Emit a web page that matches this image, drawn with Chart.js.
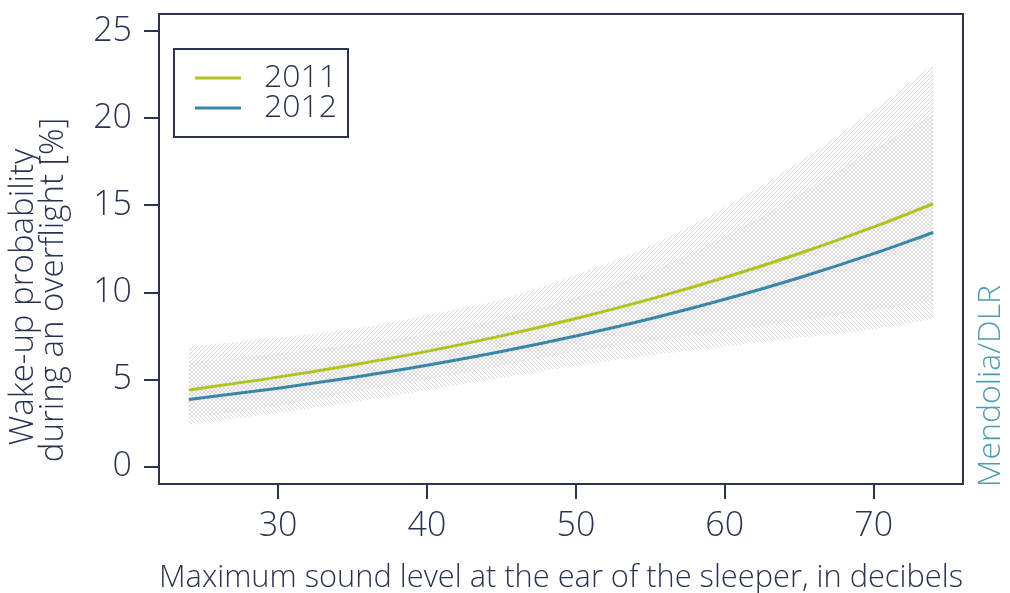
<!DOCTYPE html>
<html>
<head>
<meta charset="utf-8">
<script src="https://cdn.jsdelivr.net/npm/chart.js@4.4.1/dist/chart.umd.min.js"></script>
<style>
html, body { margin: 0; padding: 0; background: #fff; }
#wrap { width: 1010px; height: 593px; position: relative; }
</style>
</head>
<body>
<div id="wrap"><canvas id="grafica"></canvas></div>
<script>
// valores (nivel sonoro en dB, probabilidad en %)
const niveles = [24, 30, 35, 40, 45, 50, 55, 60, 65, 70, 74];
const prob2011 = [4.40, 5.14, 5.84, 6.62, 7.51, 8.51, 9.62, 10.86, 12.24, 13.77, 15.10];
const prob2012 = [3.85, 4.50, 5.12, 5.82, 6.61, 7.50, 8.49, 9.61, 10.85, 12.23, 13.45];
const sup2011 = [6.9, 7.4, 7.9, 8.7, 9.6, 11.0, 12.7, 14.9, 17.5, 20.5, 23.1];
const inf2011 = [2.8, 3.5, 4.3, 5.0, 5.8, 6.6, 7.2, 7.8, 8.4, 9.0, 9.5];
const sup2012 = [6.0, 6.5, 7.0, 7.6, 8.5, 9.7, 11.2, 13.2, 15.6, 18.2, 20.2];
const inf2012 = [2.4, 3.1, 3.7, 4.4, 5.1, 5.8, 6.4, 6.9, 7.4, 7.9, 8.5];
const ticksX = [30, 40, 50, 60, 70];
const ticksY = [0, 5, 10, 15, 20, 25];
const series = ['2011', '2012'];

const azul = '#2a3452';
const fuente = "'Open Sans', 'DejaVu Sans', sans-serif";
const colores = { '2011': '#b3c21d', '2012': '#3a86a8' };

function puntos(ys) {
    return niveles.map(function(x, i) { return { x: x, y: ys[i] }; });
}

// rayado gris para las bandas de confianza
function rayado(dir) {
    var c = document.createElement('canvas');
    c.width = 4; c.height = 4;
    var g = c.getContext('2d');
    g.strokeStyle = 'rgba(150,150,150,0.36)';
    g.lineWidth = 1;
    g.beginPath();
    if (dir > 0) {
        g.moveTo(0, 4); g.lineTo(4, 0);
        g.moveTo(-1, 1); g.lineTo(1, -1);
        g.moveTo(3, 5); g.lineTo(5, 3);
    } else {
        g.moveTo(0, 0); g.lineTo(4, 4);
        g.moveTo(-1, 3); g.lineTo(1, 5);
        g.moveTo(3, -1); g.lineTo(5, 1);
    }
    g.stroke();
    return g.createPattern(c, 'repeat');
}

function banda(ys, relleno, fondo) {
    return {
        label: '',
        data: puntos(ys),
        borderWidth: 0,
        borderColor: 'rgba(0,0,0,0)',
        pointRadius: 0,
        fill: relleno,
        backgroundColor: fondo,
        cubicInterpolationMode: 'monotone',
        order: 2
    };
}

function curva(nombre, ys) {
    return {
        label: nombre,
        data: puntos(ys),
        borderColor: colores[nombre],
        borderWidth: 3,
        pointRadius: 0,
        fill: false,
        cubicInterpolationMode: 'monotone',
        order: 0
    };
}

// marco, leyenda y textos extra
const extras = {
    id: 'extras',
    afterDraw: function(chart) {
        var ctx = chart.ctx;
        var a = chart.chartArea;
        ctx.save();
        ctx.strokeStyle = azul;
        ctx.lineWidth = 2;
        ctx.strokeRect(a.left, a.top, a.right - a.left, a.bottom - a.top);

        // leyenda
        ctx.strokeRect(174, 49, 174, 88);
        ctx.font = '300 32px ' + fuente;
        ctx.textBaseline = 'middle';
        ctx.textAlign = 'left';
        series.forEach(function(s, i) {
            var y = 78 + i * 30;
            ctx.strokeStyle = colores[s];
            ctx.lineWidth = 3;
            ctx.beginPath();
            ctx.moveTo(195, y); ctx.lineTo(241, y);
            ctx.stroke();
            ctx.fillStyle = azul;
            ctx.fillText(s, 264, y);
        });

        // titulo eje y (dos lineas)
        ctx.font = '300 33px ' + fuente;
        ctx.textAlign = 'center';
        ctx.textBaseline = 'alphabetic';
        ctx.fillStyle = azul;
        ctx.save();
        ctx.translate(33, 297);
        ctx.rotate(-Math.PI / 2);
        ctx.fillText('Wake-up probability', 0, 0);
        ctx.restore();
        ctx.save();
        ctx.translate(63, 290);
        ctx.rotate(-Math.PI / 2);
        ctx.fillText('during an overflight [%]', 0, 0);
        ctx.restore();

        // fuente
        ctx.font = '300 32px ' + fuente;
        ctx.textBaseline = 'middle';
        ctx.fillStyle = '#4f9cb5';
        ctx.translate(991, 386);
        ctx.rotate(-Math.PI / 2);
        ctx.fillText('Mendolia/DLR', 0, 0);
        ctx.restore();
    }
};

document.addEventListener('DOMContentLoaded', function() {
    var ctx = document.getElementById('grafica').getContext('2d');
    new Chart(ctx, {
        type: 'line',
        data: {
            datasets: [
                curva('2011', prob2011),
                curva('2012', prob2012),
                banda(inf2011, false, 'rgba(0,0,0,0)'),
                banda(sup2011, '-1', rayado(1)),
                banda(inf2012, false, 'rgba(0,0,0,0)'),
                banda(sup2012, '-1', rayado(-1))
            ]
        },
        options: {
            responsive: true,
            maintainAspectRatio: false,
            animation: false,
            layout: { padding: { left: 0, top: 14, right: 47, bottom: 0 } },
            plugins: {
                legend: { display: false },
                tooltip: { enabled: false }
            },
            scales: {
                x: {
                    type: 'linear',
                    min: 22,
                    max: 76,
                    afterBuildTicks: function(s) { s.ticks = ticksX.map(function(v) { return { value: v }; }); },
                    afterFit: function(s) { s.height = 109; s.paddingLeft = 0; s.paddingRight = 0; },
                    grid: { drawOnChartArea: false, drawTicks: true, tickLength: 15, color: azul, lineWidth: 2 },
                    border: { display: false },
                    ticks: { font: { size: 34, family: fuente, weight: 300 }, color: azul, padding: 7, maxRotation: 0, autoSkip: false },
                    title: {
                        display: true,
                        text: 'Maximum sound level at the ear of the sleeper, in decibels',
                        font: { size: 31, family: fuente, weight: 300, lineHeight: 1 },
                        color: azul,
                        padding: { top: 0, bottom: -1 }
                    }
                },
                y: {
                    min: -1,
                    max: 26,
                    afterBuildTicks: function(s) { s.ticks = ticksY.map(function(v) { return { value: v }; }); },
                    afterFit: function(s) { s.width = 159; s.paddingTop = 0; s.paddingBottom = 0; },
                    grid: { drawOnChartArea: false, drawTicks: true, tickLength: 15, color: azul, lineWidth: 2 },
                    border: { display: false },
                    ticks: { font: { size: 34, family: fuente, weight: 300, lineHeight: 1 }, color: azul, padding: 12 }
                }
            }
        },
        plugins: [extras]
    });
});
</script>
</body>
</html>
